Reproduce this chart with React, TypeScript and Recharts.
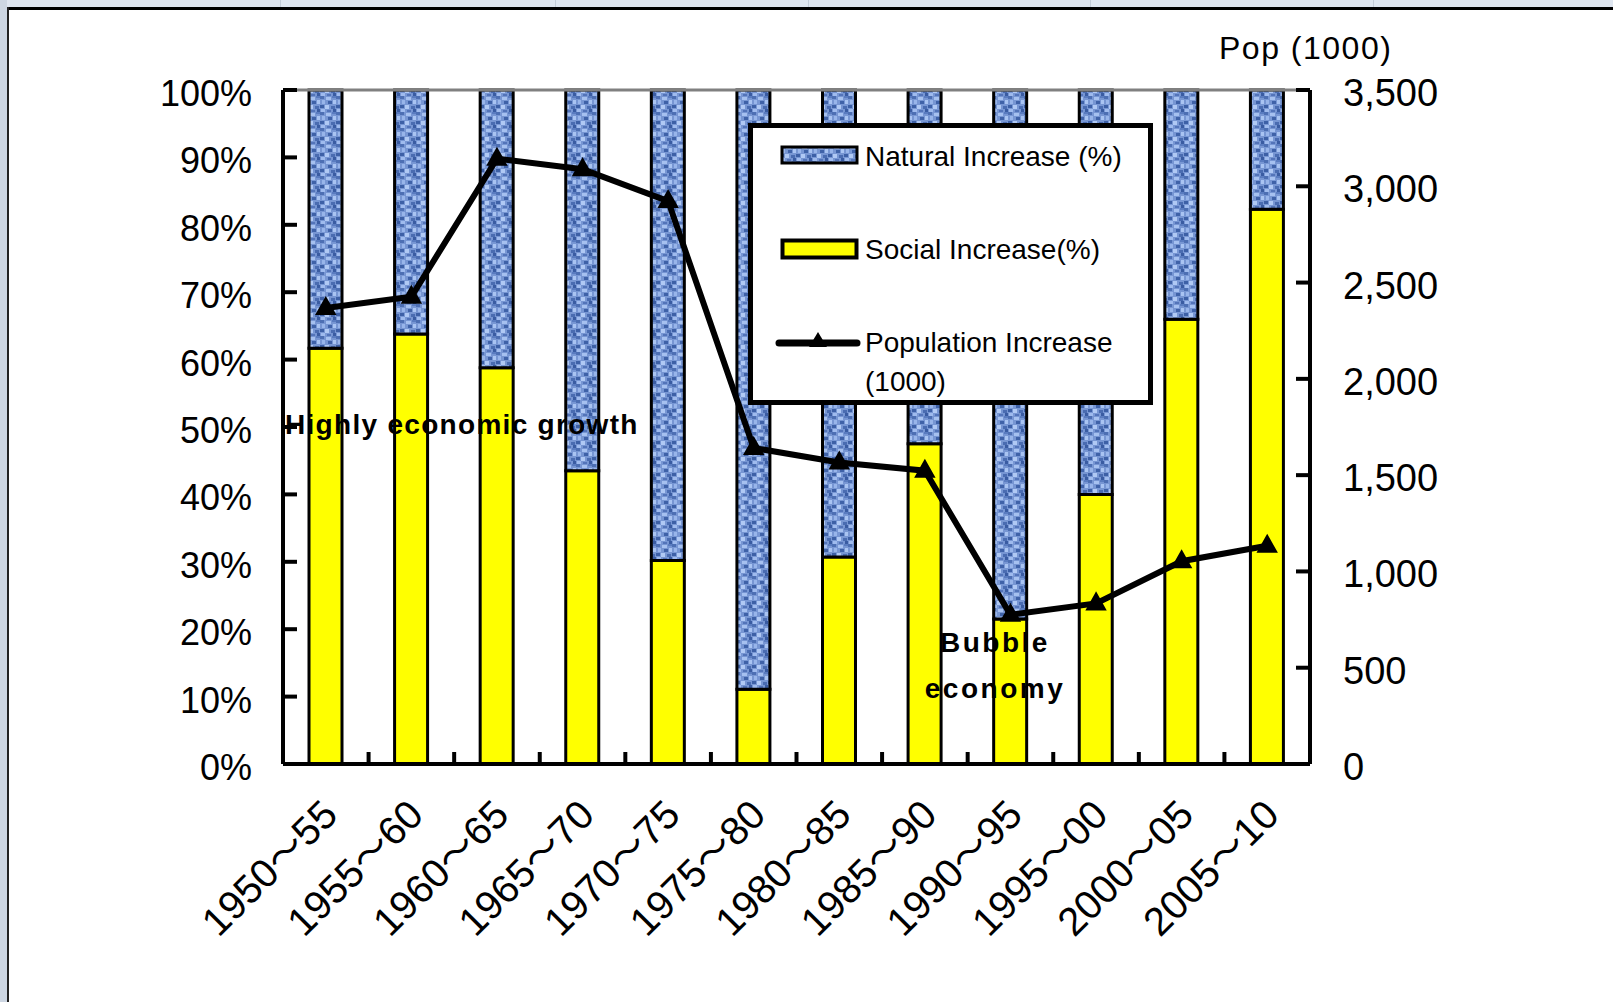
import { ComposedChart, Bar, Line, XAxis, YAxis, Legend, ReferenceLine } from "recharts";

const periods = ["1950～55", "1955～60", "1960～65", "1965～70", "1970～75", "1975～80", "1980～85", "1985～90", "1990～95", "1995～00", "2000～05", "2005～10"];
const socialIncrease = [61.7, 63.8, 58.8, 43.5, 30.2, 11.1, 30.7, 47.5, 21.5, 40.0, 66.0, 82.3];
const naturalIncrease = [38.3, 36.2, 41.2, 56.5, 69.8, 88.9, 69.3, 52.5, 78.5, 60.0, 34.0, 17.7];
const popIncrease = [2368, 2426, 3143, 3089, 2923, 1641, 1566, 1523, 775, 834, 1053, 1133];
const pctTicks = [0, 10, 20, 30, 40, 50, 60, 70, 80, 90, 100];
const popTicks = [0, 500, 1000, 1500, 2000, 2500, 3000, 3500];

const data = periods.map((p, i) => ({
  period: p,
  social: socialIncrease[i],
  natural: naturalIncrease[i],
  pop: popIncrease[i],
}));

const W = 1613;
const H = 1002;
const PLOT_L = 283;
const PLOT_R = 1310;
const BAND = (PLOT_R - PLOT_L) / periods.length;
const FONT = '"Liberation Sans", Arial, "Noto Sans CJK JP", sans-serif';

// mottled speckles for the textured blue fill
const speckles: [number, number, number, number, string][] = [
  [0, 0, 4, 3, "#4d6fb3"], [6, 1, 5, 3, "#a6c1f0"], [12, 0, 4, 2, "#5a7cc0"],
  [2, 4, 3, 4, "#98b5ea"], [8, 5, 4, 3, "#3f62a8"], [13, 4, 3, 4, "#a9c4f2"],
  [0, 9, 4, 3, "#3d60a6"], [5, 9, 4, 4, "#b0c9f4"], [11, 10, 4, 3, "#4a6cb1"],
  [1, 13, 4, 3, "#9fbbee"], [7, 14, 4, 2, "#5374b9"], [13, 13, 3, 3, "#3a5ca2"],
];

const TextureDefs = () => (
  <svg width={0} height={0} style={{ position: "absolute" }}>
    <defs>
      <pattern id="blueTex" width={16} height={16} patternUnits="userSpaceOnUse">
        <rect width={16} height={16} fill="#7796d3" />
        {speckles.map(([x, y, w, h, c], i) => (
          <rect key={i} x={x} y={y} width={w} height={h} fill={c} />
        ))}
      </pattern>
    </defs>
  </svg>
);

const PctTick = (props: any) => {
  const { x, y, payload } = props;
  return (
    <g>
      <line x1={x} x2={x + 14} y1={y} y2={y} stroke="#000" strokeWidth={4} />
      <text x={x - 31} y={y} dy={16} textAnchor="end" fontSize={36} fill="#000" fontFamily={FONT}>
        {payload.value}%
      </text>
    </g>
  );
};

const PopTick = (props: any) => {
  const { x, y, payload } = props;
  return (
    <g>
      <line x1={x} x2={x - 14} y1={y} y2={y} stroke="#000" strokeWidth={4} />
      <text x={x + 33} y={y} dy={16} textAnchor="start" fontSize={38} fill="#000" fontFamily={FONT}>
        {payload.value.toLocaleString("en-US")}
      </text>
    </g>
  );
};

const PeriodTick = (props: any) => {
  const { x, y, payload, index } = props;
  const [from, to] = String(payload.value).split("～");
  return (
    <g>
      {index < periods.length - 1 && (
        <line x1={x + BAND / 2} x2={x + BAND / 2} y1={y} y2={y - 12} stroke="#000" strokeWidth={4} />
      )}
      <text
        transform={`translate(${x + 14},${y + 53}) rotate(-45)`}
        textAnchor="end"
        fontSize={40}
        fill="#000"
        fontFamily={FONT}
      >
        {from}
        <tspan fontFamily='"Noto Sans CJK JP", sans-serif' fontSize={38}>～</tspan>
        {to}
      </text>
    </g>
  );
};

const Triangle = (props: any) => {
  const { cx, cy, index } = props;
  return (
    <path
      key={index}
      d={`M${cx},${cy - 10} L${cx - 9},${cy + 6} L${cx + 9},${cy + 6} Z`}
      fill="#000"
      stroke="#000"
      strokeWidth={2}
    />
  );
};

const legendText = { position: "absolute" as const, left: 112, fontSize: 28, lineHeight: "30px", whiteSpace: "nowrap" as const };

const LegendBox = () => (
  <div
    style={{
      width: 405,
      height: 282,
      boxSizing: "border-box",
      border: "5px solid #000",
      background: "#fff",
      position: "relative",
      fontFamily: FONT,
      color: "#000",
    }}
  >
    <svg width={80} height={24} style={{ position: "absolute", left: 27, top: 17 }}>
      <rect x={2} y={2} width={75} height={16} fill="url(#blueTex)" stroke="#000" strokeWidth={3} />
    </svg>
    <div style={{ ...legendText, top: 14 }}>Natural Increase (%)</div>
    <svg width={80} height={26} style={{ position: "absolute", left: 27, top: 110 }}>
      <rect x={2.5} y={2.5} width={74} height={17} fill="#ffff00" stroke="#000" strokeWidth={4} />
    </svg>
    <div style={{ ...legendText, top: 107 }}>Social Increase(%)</div>
    <svg width={86} height={30} style={{ position: "absolute", left: 22, top: 199 }}>
      <line x1={4} x2={82} y1={16} y2={16} stroke="#000" strokeWidth={7} strokeLinecap="round" />
      <path d="M43,5 L34,20 L52,20 Z" fill="#000" />
    </svg>
    <div style={{ ...legendText, top: 200 }}>Population Increase</div>
    <div style={{ ...legendText, top: 239 }}>(1000)</div>
  </div>
);

const note = {
  position: "absolute" as const,
  fontFamily: FONT,
  fontWeight: "bold" as const,
  fontSize: 28,
  color: "#000",
  whiteSpace: "nowrap" as const,
  lineHeight: "32px",
};

export default function App() {
  return (
    <div style={{ position: "fixed", left: 0, top: 0, width: W, height: H, background: "#fff", overflow: "hidden" }}>
      <TextureDefs />
      {/* window frame */}
      <div style={{ position: "absolute", left: 0, top: 0, width: W, height: 7, background: "#dfe6f0" }} />
      {[280, 555, 808, 1090, 1373].map((sx) => (
        <div key={sx} style={{ position: "absolute", left: sx, top: 0, width: 1, height: 7, background: "#c3ccd8" }} />
      ))}
      <div style={{ position: "absolute", left: 0, top: 0, width: 7, height: H, background: "#cdd6e2" }} />
      <div style={{ position: "absolute", left: 7, top: 7, width: W, height: 3, background: "#000" }} />
      <div style={{ position: "absolute", left: 7, top: 7, width: 2, height: H, background: "#222" }} />

      <div style={{ position: "absolute", left: 0, top: 0 }}>
        <ComposedChart
          width={W}
          height={H}
          data={data}
          margin={{ top: 90, right: 173, bottom: 138, left: 183 }}
          barCategoryGap={0}
        >
          <XAxis
            dataKey="period"
            height={100}
            axisLine={{ stroke: "#000", strokeWidth: 4 }}
            tickLine={false}
            tickSize={0}
            tickMargin={0}
            interval={0}
            tick={<PeriodTick />}
          />
          <YAxis
            yAxisId="pct"
            orientation="left"
            width={100}
            domain={[0, 100]}
            ticks={pctTicks}
            axisLine={{ stroke: "#000", strokeWidth: 4 }}
            tickLine={false}
            tickSize={0}
            tickMargin={0}
            tick={<PctTick />}
            interval={0}
          />
          <YAxis
            yAxisId="pop"
            orientation="right"
            width={130}
            domain={[0, 3500]}
            ticks={popTicks}
            axisLine={{ stroke: "#000", strokeWidth: 4 }}
            tickLine={false}
            tickSize={0}
            tickMargin={0}
            tick={<PopTick />}
            interval={0}
          />
          <ReferenceLine yAxisId="pct" y={100} stroke="#808080" strokeWidth={3} />
          <Legend
            layout="vertical"
            align="center"
            verticalAlign="middle"
            content={<LegendBox />}
            wrapperStyle={{ left: 748, top: 123, width: 405, height: 282 }}
          />
          <Bar
            yAxisId="pct"
            dataKey="social"
            name="Social Increase(%)"
            stackId="share"
            fill="#ffff00"
            stroke="#000"
            strokeWidth={3}
            barSize={33}
            isAnimationActive={false}
          />
          <Bar
            yAxisId="pct"
            dataKey="natural"
            name="Natural Increase (%)"
            stackId="share"
            fill="url(#blueTex)"
            stroke="#000"
            strokeWidth={3}
            barSize={33}
            isAnimationActive={false}
          />
          <Line
            yAxisId="pop"
            dataKey="pop"
            name="Population Increase (1000)"
            type="linear"
            stroke="#000"
            strokeWidth={6}
            dot={<Triangle />}
            activeDot={false}
            isAnimationActive={false}
          />
        </ComposedChart>
      </div>

      <div style={{ position: "absolute", left: 1219, top: 30, fontFamily: FONT, fontSize: 32, lineHeight: "36px", letterSpacing: 1.5, color: "#000" }}>
        Pop (1000)
      </div>
      <div style={{ ...note, left: 285, top: 409, letterSpacing: 1.3 }}>Highly economic growth</div>
      <div style={{ ...note, left: 900, width: 190, textAlign: "center", top: 627, letterSpacing: 2.5 }}>Bubble</div>
      <div style={{ ...note, left: 900, width: 190, textAlign: "center", top: 673, letterSpacing: 2.5 }}>economy</div>
    </div>
  );
}
